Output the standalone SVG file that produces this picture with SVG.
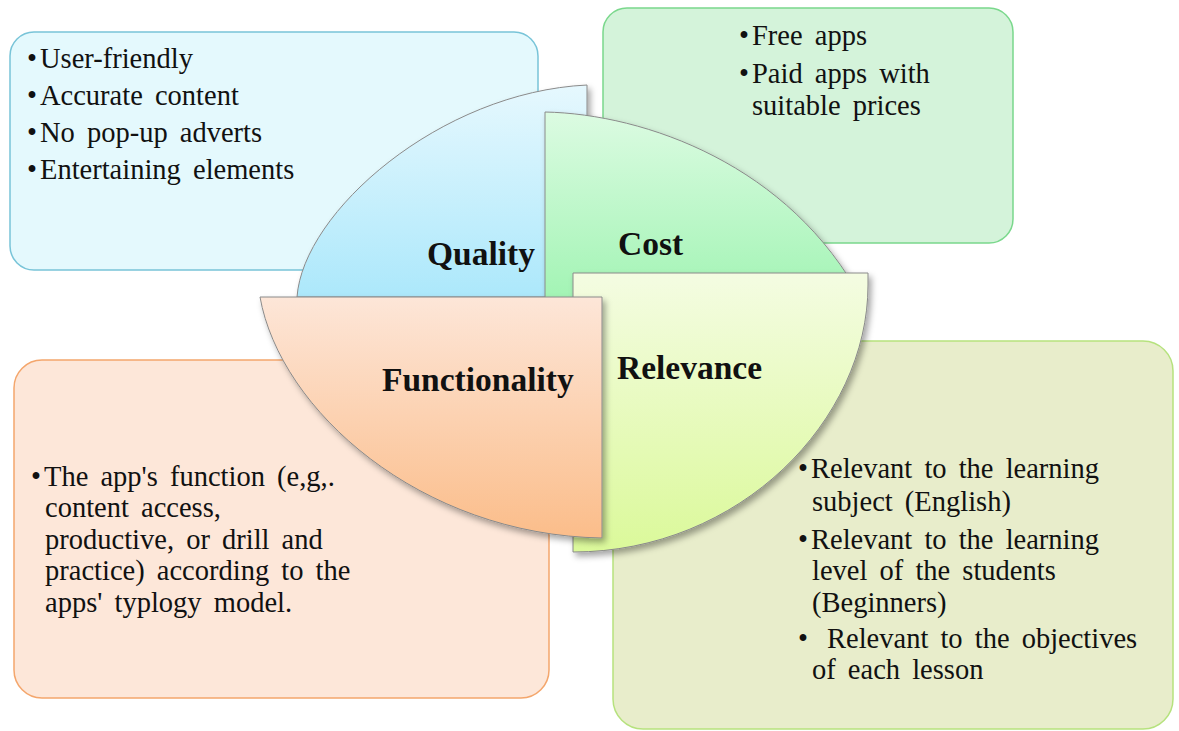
<svg xmlns="http://www.w3.org/2000/svg" width="1179" height="731" viewBox="0 0 1179 731">
<defs>
<linearGradient id="gQ" x1="0" y1="0" x2="0" y2="1"><stop offset="0" stop-color="#e6f8fe"/><stop offset="1" stop-color="#ace8fb"/></linearGradient>
<linearGradient id="gC" x1="0" y1="0" x2="0" y2="1"><stop offset="0" stop-color="#dcfbe2"/><stop offset="1" stop-color="#a2f4b4"/></linearGradient>
<linearGradient id="gR" x1="0" y1="0" x2="0" y2="1"><stop offset="0" stop-color="#f4fce2"/><stop offset="1" stop-color="#dbf99a"/></linearGradient>
<linearGradient id="gF" x1="0" y1="0" x2="0" y2="1"><stop offset="0" stop-color="#fde6d8"/><stop offset="1" stop-color="#fbbd8a"/></linearGradient>
<filter id="sh" x="-10%" y="-10%" width="130%" height="130%"><feDropShadow dx="3" dy="4" stdDeviation="3" flood-color="#000" flood-opacity="0.35"/></filter>
</defs>
<style>
.body{font-family:"Liberation Serif","Times New Roman",serif;font-size:28.5px;word-spacing:5px;fill:#111}
.lbl{font-family:"Liberation Serif","Times New Roman",serif;font-size:33.5px;font-weight:bold;fill:#111}
.quad{stroke:#8a8a8a;stroke-width:1;filter:url(#sh)}
.box{stroke-width:1.5}
</style>

<g id="box-quality">
<rect class="box" x="10" y="32" width="528" height="238" rx="24" fill="#e4f9fd" stroke="#78c4d8"/>
<text class="body" x="27" y="68">•<tspan dx="3">User-friendly</tspan></text>
<text class="body" x="27" y="105">•<tspan dx="3">Accurate content</tspan></text>
<text class="body" x="27" y="142">•<tspan dx="3">No pop-up adverts</tspan></text>
<text class="body" x="27" y="179">•<tspan dx="3">Entertaining elements</tspan></text>
</g>

<g id="box-cost">
<rect class="box" x="603" y="8" width="410" height="235" rx="24" fill="#d4f3da" stroke="#7ad88c"/>
<text class="body" x="739" y="45">•<tspan dx="3">Free apps</tspan></text>
<text class="body" x="739" y="83">•<tspan dx="3">Paid apps with</tspan></text>
<text class="body" x="752" y="115">suitable prices</text>
</g>

<g id="box-functionality">
<rect class="box" x="14" y="360" width="535" height="338" rx="28" fill="#fde7d9" stroke="#f4a66c"/>
<text class="body" x="31" y="486">•<tspan dx="3">The app's function (e,g,.</tspan></text>
<text class="body" x="45" y="517">content access,</text>
<text class="body" x="45" y="549">productive, or drill and</text>
<text class="body" x="45" y="580">practice) according to the</text>
<text class="body" x="45" y="612">apps' typlogy model.</text>
</g>

<g id="box-relevance">
<rect class="box" x="613" y="341" width="560" height="388" rx="30" fill="#e8edcb" stroke="#b6e27e"/>
<text class="body" x="798" y="478">•<tspan dx="3">Relevant to the learning</tspan></text>
<text class="body" x="812" y="511">subject (English)</text>
<text class="body" x="798" y="549">•<tspan dx="3">Relevant to the learning</tspan></text>
<text class="body" x="812" y="580">level of the students</text>
<text class="body" x="812" y="612">(Beginners)</text>
<text class="body" x="798" y="648">• <tspan x="827">Relevant to the objectives</tspan></text>
<text class="body" x="812" y="679">of each lesson</text>
</g>

<g id="node-quality">
<path class="quad" d="M297,297 C303,212 440,92 587,85 L587,297 Z" fill="url(#gQ)"/>
<text class="lbl" x="427" y="265">Quality</text>
</g>

<g id="node-cost">
<path class="quad" d="M545,112 C645,114 790,165 862,300 L545,300 Z" fill="url(#gC)"/>
<text class="lbl" x="618" y="255">Cost</text>
</g>

<g id="node-relevance">
<path class="quad" d="M573,273 L868,273 L868,285 C868,420 740,552 573,552 Z" fill="url(#gR)"/>
<text class="lbl" x="617" y="379">Relevance</text>
</g>

<g id="node-functionality">
<path class="quad" d="M260,297 L602,297 L602,538 C420,535 280,410 260,297 Z" fill="url(#gF)"/>
<text class="lbl" x="382" y="391">Functionality</text>
</g>

<g id="connectors"></g>
</svg>
